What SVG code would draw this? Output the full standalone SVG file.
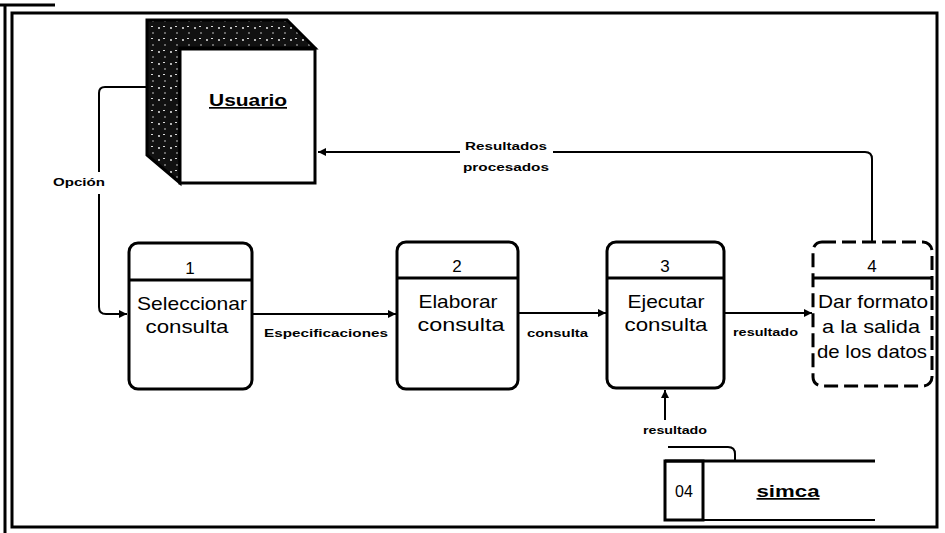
<svg xmlns="http://www.w3.org/2000/svg" width="945" height="533" viewBox="0 0 945 533">
<defs>
<style>
.frame{fill:none;stroke:#000;stroke-width:3}
.proc{fill:#fff;stroke:#000;stroke-width:3}
.dash{fill:#fff;stroke:#000;stroke-width:3;stroke-dasharray:14 6}
.ln{fill:none;stroke:#000;stroke-width:2}
.ptxt{font-family:"Liberation Sans",Arial,sans-serif;font-size:19px;fill:#000;text-anchor:middle}
.num{font-family:"Liberation Sans",Arial,sans-serif;font-size:17px;fill:#000;text-anchor:middle}
.lbl{font-family:"Liberation Sans",Arial,sans-serif;font-size:11px;font-weight:bold;fill:#000}
.ent{font-family:"Liberation Sans",Arial,sans-serif;font-size:17px;font-weight:bold;fill:#000;text-anchor:middle;text-decoration:underline}
</style>
<marker id="arr" viewBox="0 0 10 10" refX="10" refY="5" markerWidth="8" markerHeight="8" markerUnits="userSpaceOnUse" orient="auto">
<path d="M0,0 L10,5 L0,10 z" fill="#000"/>
</marker>
<pattern id="tex" width="12" height="12" patternUnits="userSpaceOnUse">
<rect width="12" height="12" fill="#111"/>
<circle cx="3" cy="4" r="0.9" fill="#fff"/>
<circle cx="9" cy="9" r="0.7" fill="#fff"/>
<rect x="7" y="2" width="2" height="1" fill="#ddd"/>
</pattern>
</defs>
<rect width="945" height="533" fill="#fff"/>
<g id="frame">
<rect class="frame" x="12" y="13" width="925" height="514"/>
<line x1="5" y1="5" x2="5" y2="533" stroke="#000" stroke-width="3"/>
<line x1="0" y1="5" x2="55" y2="5" stroke="#000" stroke-width="3"/>
</g>
<g id="connectors">
<path class="ln" d="M147,87 H105 Q99,87 99,93 V172"/>
<path class="ln" d="M99,194 V307 Q99,314 106,314 H127" marker-end="url(#arr)"/>
<text class="lbl" x="53" y="186" textLength="52" lengthAdjust="spacingAndGlyphs">Opción</text>
<path class="ln" d="M253,314 H396" marker-end="url(#arr)"/>
<text class="lbl" x="264" y="337" textLength="124" lengthAdjust="spacingAndGlyphs">Especificaciones</text>
<path class="ln" d="M518,313 H606" marker-end="url(#arr)"/>
<text class="lbl" x="527" y="337" textLength="61" lengthAdjust="spacingAndGlyphs">consulta</text>
<path class="ln" d="M724,313 H812" marker-end="url(#arr)"/>
<text class="lbl" x="733" y="336" textLength="65" lengthAdjust="spacingAndGlyphs">resultado</text>
<path class="ln" d="M872,242 V159 Q872,152 865,152 H553"/>
<path class="ln" d="M460,152 H318" marker-end="url(#arr)"/>
<text class="lbl" x="465" y="150" textLength="82" lengthAdjust="spacingAndGlyphs">Resultados</text>
<text class="lbl" x="463" y="171" textLength="86" lengthAdjust="spacingAndGlyphs">procesados</text>
<path class="ln" d="M735,461 V454 Q735,447 728,447 H668"/>
<path class="ln" d="M665,420 V390" marker-end="url(#arr)"/>
<text class="lbl" x="643" y="434" textLength="64" lengthAdjust="spacingAndGlyphs">resultado</text>
</g>
<g id="usuario">
<polygon points="147,20 287,20 315,48 180,48 180,183 147,155" fill="url(#tex)" stroke="#000" stroke-width="3"/>
<rect x="180" y="49" width="135" height="134" fill="#fff" stroke="#000" stroke-width="3"/>
<text class="ent" x="248" y="106" textLength="78" lengthAdjust="spacingAndGlyphs">Usuario</text>
</g>
<g id="p1">
<rect class="proc" x="129" y="243" width="123" height="146" rx="9"/>
<line x1="129" y1="280" x2="252" y2="280" stroke="#000" stroke-width="3"/>
<text class="num" x="190" y="274">1</text>
<text class="ptxt" x="192" y="310" textLength="110" lengthAdjust="spacingAndGlyphs">Seleccionar</text>
<text class="ptxt" x="187" y="333" textLength="83" lengthAdjust="spacingAndGlyphs">consulta</text>
</g>
<g id="p2">
<rect class="proc" x="397" y="242" width="121" height="147" rx="9"/>
<line x1="397" y1="278" x2="518" y2="278" stroke="#000" stroke-width="3"/>
<text class="num" x="457" y="272">2</text>
<text class="ptxt" x="458" y="308" textLength="79" lengthAdjust="spacingAndGlyphs">Elaborar</text>
<text class="ptxt" x="461" y="331" textLength="87" lengthAdjust="spacingAndGlyphs">consulta</text>
</g>
<g id="p3">
<rect class="proc" x="607" y="242" width="117" height="146" rx="9"/>
<line x1="607" y1="278" x2="724" y2="278" stroke="#000" stroke-width="3"/>
<text class="num" x="665" y="272">3</text>
<text class="ptxt" x="666" y="308" textLength="77" lengthAdjust="spacingAndGlyphs">Ejecutar</text>
<text class="ptxt" x="666" y="331" textLength="83" lengthAdjust="spacingAndGlyphs">consulta</text>
</g>
<g id="p4">
<rect class="dash" x="813" y="242" width="119" height="144" rx="9"/>
<line x1="813" y1="278" x2="932" y2="278" stroke="#000" stroke-width="3"/>
<text class="num" x="872" y="272">4</text>
<text class="ptxt" x="873" y="308" textLength="110" lengthAdjust="spacingAndGlyphs">Dar formato</text>
<text class="ptxt" x="871" y="333" textLength="98" lengthAdjust="spacingAndGlyphs">a la salida</text>
<text class="ptxt" x="872" y="358" textLength="110" lengthAdjust="spacingAndGlyphs">de los datos</text>
</g>
<g id="simca">
<line x1="665" y1="461" x2="875" y2="461" stroke="#000" stroke-width="3"/>
<line x1="665" y1="520" x2="875" y2="520" stroke="#000" stroke-width="2"/>
<rect x="665" y="461" width="38" height="59" fill="none" stroke="#000" stroke-width="3"/>
<text x="684" y="497" font-family="Liberation Sans, Arial, sans-serif" font-size="16" text-anchor="middle">04</text>
<text class="ent" x="788" y="497" textLength="63" lengthAdjust="spacingAndGlyphs">simca</text>
</g>
</svg>
